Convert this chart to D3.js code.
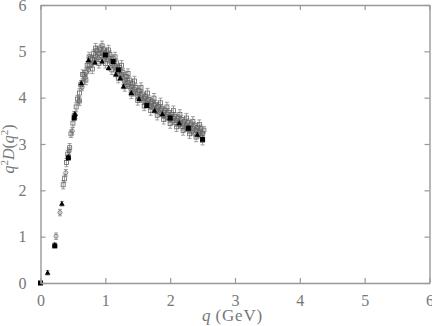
<!DOCTYPE html>
<html lang="en">
  <head>
    <meta charset="UTF-8" />
    <title></title>
    <script src="https://d3js.org/d3.v7.min.js"></script>
    <style>
      body { margin: 0; background: #fff; }
    </style>
  </head>
  <body>
    <div id="chart"></div>
    <script>
      // ---- data ----
      const tickValues = [0, 1, 2, 3, 4, 5, 6]

      // open squares, set 1
      const sq1Q = [0.37,0.42,0.47,0.52,0.57,0.62,0.67,0.72,0.77,0.82,0.87,0.92,0.97,1.02,1.07,1.12,1.17,1.22,1.27,1.32,1.37,1.42,1.47,1.52,1.57,1.62,1.67,1.72,1.77,1.82,1.87,1.92,1.97,2.02,2.07,2.12,2.17,2.22,2.27,2.32,2.37,2.42,2.47,2.52]
      const sq1V = [2.25,2.78,3.22,3.62,3.97,4.28,4.5,4.7,4.85,4.95,5.02,5.05,5.03,4.99,4.93,4.84,4.75,4.65,4.55,4.46,4.38,4.3,4.22,4.15,4.08,4.02,3.96,3.91,3.86,3.81,3.76,3.72,3.68,3.64,3.6,3.56,3.53,3.49,3.46,3.43,3.39,3.36,3.33,3.3]

      // open circles
      const circQ = [0.24,0.3,0.39,0.44,0.49,0.54,0.59,0.64,0.69,0.74,0.79,0.84,0.89,0.94,0.99,1.04,1.09,1.14,1.19,1.24,1.29,1.34,1.39,1.44,1.49,1.54,1.59,1.64,1.69,1.74,1.79,1.84,1.89,1.94,1.99,2.04,2.09,2.14,2.19,2.24,2.29,2.34,2.39,2.44,2.49]
      const circV = [1.01,1.52,2.38,2.85,3.28,3.62,3.93,4.22,4.43,4.6,4.72,4.81,4.86,4.89,4.87,4.82,4.74,4.65,4.55,4.45,4.35,4.27,4.19,4.11,4.04,3.97,3.92,3.87,3.82,3.77,3.72,3.67,3.62,3.57,3.53,3.49,3.45,3.41,3.37,3.34,3.3,3.26,3.23,3.2,3.17]

      // open squares, set 2
      const sq2Q = [0.35,0.4,0.45,0.5,0.55,0.6,0.65,0.7,0.75,0.8,0.85,0.9,0.95,1.0,1.05,1.1,1.15,1.2,1.25,1.3,1.35,1.4,1.45,1.5,1.55,1.6,1.65,1.7,1.75,1.8,1.85,1.9,1.95,2.0,2.05,2.1,2.15,2.2,2.25,2.3,2.35,2.4,2.45,2.5]
      const sq2V = [2.12,2.6,2.92,3.45,3.8,4.1,4.33,4.55,4.7,4.82,4.9,4.95,4.96,4.93,4.86,4.79,4.69,4.6,4.5,4.4,4.33,4.24,4.17,4.1,4.04,3.98,3.93,3.88,3.83,3.78,3.73,3.68,3.63,3.59,3.55,3.51,3.47,3.43,3.39,3.36,3.33,3.29,3.26,3.23]

      // open squares, set 3 (lower edge of band)
      const sq3Q = [0.6,0.7,0.8,0.9,1.0,1.1,1.2,1.3,1.4,1.5,1.6,1.7,1.8,1.9,2.0,2.1,2.2,2.3,2.4,2.5]
      const sq3V = [3.93,4.38,4.62,4.74,4.74,4.6,4.42,4.24,4.08,3.94,3.82,3.72,3.62,3.53,3.44,3.37,3.29,3.22,3.15,3.08]

      // open squares, set 4 (upper edge of band)
      const sq4Q = [0.65,0.75,0.85,0.95,1.05,1.15,1.25,1.35,1.45,1.55,1.65,1.75,1.85,1.95,2.05,2.15,2.25,2.35,2.45]
      const sq4V = [4.5,4.88,5.07,5.12,5.03,4.88,4.7,4.52,4.36,4.22,4.1,3.99,3.89,3.8,3.72,3.64,3.56,3.49,3.42]

      // filled triangles
      const triQ = [0.11,0.22,0.33,0.43,0.53,0.63,0.74,0.84,0.95,1.05,1.16,1.23,1.28,1.4,1.52,1.64,1.76,1.88,2.0,2.14,2.28,2.42]
      const triV = [0.22,0.82,1.71,2.72,3.65,4.31,4.81,4.76,4.78,4.64,4.5,4.42,4.24,4.1,3.97,3.83,3.72,3.64,3.56,3.45,3.34,3.2]

      // filled squares
      const boxQ = [0,0.22,0.43,0.52,1.0,1.12,1.2,1.64,2.0,2.28,2.5]
      const boxV = [0,0.8,2.7,3.56,4.92,4.78,4.6,3.83,3.56,3.34,3.1]

      // error sizes per data set
      const errSq1 = 0.08, errCirc = 0.07, errSq2 = 0.09, errSq3 = 0.1, errSq4 = 0.1, errTri = 0.05

      // ---- layout ----
      const W = 432, H = 326
      const margin = { top: 5, right: 2.5, bottom: 43, left: 40.5 }
      const width = W - margin.left - margin.right,
        height = H - margin.top - margin.bottom
      const font = "'Liberation Serif', serif"

      const svg = d3
        .select('#chart')
        .append('svg')
        .attr('width', W)
        .attr('height', H)
        .style('font-family', font)

      const g = svg.append('g').attr('transform', `translate(${margin.left}, ${margin.top})`)

      const x = d3.scaleLinear().domain([0, 6]).range([0, width])
      const y = d3.scaleLinear().domain([0, 6]).range([height, 0])

      const pair = (qs, vs, e) => qs.map((q, i) => ({ q: q, v: vs[i], e: e }))

      const sets = [
        { pts: pair(sq4Q, sq4V, errSq4), shape: 'sq' },
        { pts: pair(sq3Q, sq3V, errSq3), shape: 'sq' },
        { pts: pair(sq2Q, sq2V, errSq2), shape: 'sq' },
        { pts: pair(circQ, circV, errCirc), shape: 'circ' },
        { pts: pair(sq1Q, sq1V, errSq1), shape: 'sq' },
        { pts: pair(triQ, triV, errTri), shape: 'tri' },
        { pts: pair(boxQ, boxV, 0), shape: 'box' }
      ]

      // error bars
      sets.forEach(s => {
        const eb = g.append('g').attr('stroke', '#888').attr('stroke-width', 0.8)
        s.pts.filter(d => d.e > 0).forEach(d => {
          const cx = x(d.q)
          eb.append('line').attr('x1', cx).attr('x2', cx).attr('y1', y(d.v - d.e)).attr('y2', y(d.v + d.e))
          eb.append('line').attr('x1', cx - 2).attr('x2', cx + 2).attr('y1', y(d.v + d.e)).attr('y2', y(d.v + d.e))
          eb.append('line').attr('x1', cx - 2).attr('x2', cx + 2).attr('y1', y(d.v - d.e)).attr('y2', y(d.v - d.e))
        })
      })

      // markers
      sets.forEach(s => {
        const m = g.append('g')
        s.pts.forEach(d => {
          const cx = x(d.q), cy = y(d.v)
          if (s.shape === 'sq') {
            m.append('rect').attr('x', cx - 2).attr('y', cy - 2).attr('width', 4).attr('height', 4)
              .attr('fill', 'none').attr('stroke', '#666').attr('stroke-width', 0.8)
          } else if (s.shape === 'circ') {
            m.append('circle').attr('cx', cx).attr('cy', cy).attr('r', 2)
              .attr('fill', 'none').attr('stroke', '#666').attr('stroke-width', 0.8)
          } else if (s.shape === 'tri') {
            m.append('path').attr('d', `M${cx},${cy - 3}L${cx + 2.8},${cy + 2}L${cx - 2.8},${cy + 2}Z`).attr('fill', '#000')
          } else {
            m.append('rect').attr('x', cx - 2.5).attr('y', cy - 2.5).attr('width', 5).attr('height', 5).attr('fill', '#000')
          }
        })
      })

      // axes: inward ticks on all four sides
      const axisColor = '#999'
      const mk = (sel, axis) => {
        sel.call(axis)
        sel.select('.domain').attr('stroke', axisColor).attr('stroke-width', 1.4)
        sel.selectAll('.tick line').attr('stroke', axisColor).attr('stroke-width', 1.2)
        sel.selectAll('.tick text').attr('fill', '#777').attr('font-size', 16).attr('font-family', font)
      }
      mk(g.append('g').attr('transform', `translate(0, ${height})`),
        d3.axisBottom(x).tickValues(tickValues).tickSize(-5).tickSizeOuter(0).tickPadding(12).tickFormat(d3.format('d')))
      mk(g.append('g'),
        d3.axisTop(x).tickValues(tickValues).tickSize(-5).tickSizeOuter(0).tickFormat(''))
      mk(g.append('g'),
        d3.axisLeft(y).tickValues(tickValues).tickSize(-5).tickSizeOuter(0).tickPadding(14).tickFormat(d3.format('d')))
      mk(g.append('g').attr('transform', `translate(${width}, 0)`),
        d3.axisRight(y).tickValues(tickValues).tickSize(-5).tickSizeOuter(0).tickFormat(''))

      // x label
      const xl = svg.append('text')
        .attr('x', 202).attr('y', 321)
        .attr('fill', '#777').attr('font-size', 17)
      xl.append('tspan').attr('font-style', 'italic').text('q')
      xl.append('tspan').attr('letter-spacing', 0.8).text(' (GeV)')

      // y label
      const yl = svg.append('text')
        .attr('transform', 'translate(14, 149) rotate(-90)')
        .attr('text-anchor', 'middle')
        .attr('fill', '#777').attr('font-size', 16)
      yl.append('tspan').attr('font-style', 'italic').text('q')
      yl.append('tspan').attr('font-size', 11).attr('dy', -6).text('2')
      yl.append('tspan').attr('font-style', 'italic').attr('dy', 6).text('D')
      yl.append('tspan').text('(')
      yl.append('tspan').attr('font-style', 'italic').text('q')
      yl.append('tspan').attr('font-size', 11).attr('dy', -6).text('2')
      yl.append('tspan').attr('dy', 6).text(')')
    </script>
  </body>
</html>
